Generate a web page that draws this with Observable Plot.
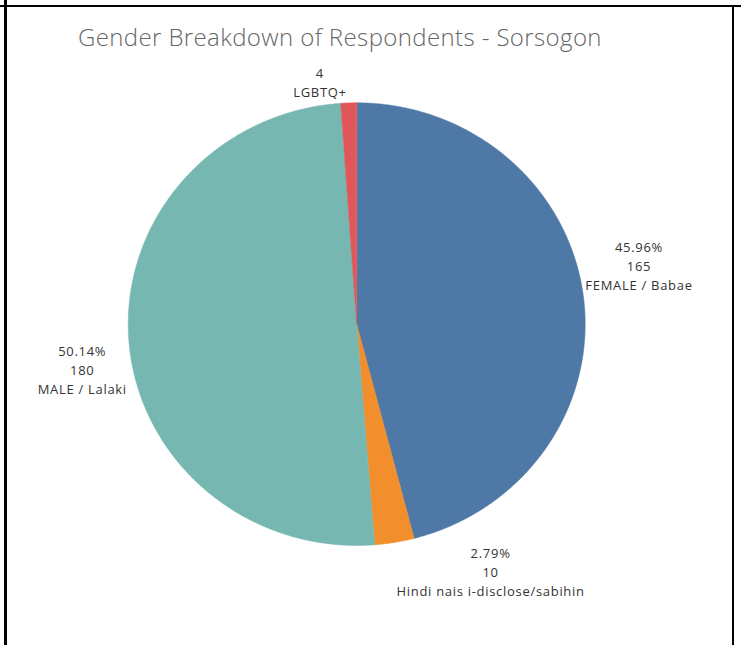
<!DOCTYPE html>
<html><head><meta charset="utf-8">
<script src="https://cdn.jsdelivr.net/npm/d3@7"></script>
<script src="https://cdn.jsdelivr.net/npm/@observablehq/plot@0.6"></script>
<style>
html,body{margin:0;padding:0;background:#fff;}
#wrap{position:relative;width:741px;height:645px;overflow:hidden;background:#fff;}
#chart{position:absolute;left:0;top:0;}
#title{position:absolute;left:78px;top:20.3px;font-family:"Open Sans",sans-serif;font-weight:300;font-size:24px;letter-spacing:0.38px;line-height:normal;color:#666;white-space:nowrap;}
.rule{position:absolute;background:#000;}
</style></head><body>
<div id="wrap">
  <div id="chart"></div>
  <div id="title">Gender Breakdown of Respondents - Sorsogon</div>
  <div class="rule" style="left:0;top:4.5px;width:741px;height:2.5px"></div>
  <div class="rule" style="left:4px;top:0;width:2.6px;height:645px"></div>
  <div class="rule" style="left:731.7px;top:4.5px;width:2.6px;height:641px"></div>
</div>
<script>
// ---- data ----
const categories = ["FEMALE / Babae", "Hindi nais i-disclose/sabihin", "MALE / Lalaki", "LGBTQ+"];
const counts = [165, 10, 180, 4];
const showPercent = [true, true, true, false];
const colors = ["#4e79a7", "#f28e2b", "#76b7b2", "#e15759"];

// ---- layout ----
const W = 741, H = 645;
const cx = 356.2, cy = 323.65, rx = 228.5, ry = 221.35;
const fontFamily = "'Open Sans', sans-serif";
const fs = 13, lh = 1.48, ls = 0.7, capH = 0.714;
const gapX = 2, gapY = 6;

const rows = categories.map((c, i) => ({category: c, count: counts[i], showPct: showPercent[i]}));
const total = d3.sum(counts);
const arcs = d3.pie().sort(null).value(d => d.count)(rows);

// slice polygons in unit-circle data coordinates
const points = [];
for (const a of arcs) {
  points.push({category: a.data.category, x: 0, y: 0});
  const n = Math.max(2, Math.ceil((a.endAngle - a.startAngle) / (Math.PI / 720)));
  for (let k = 0; k <= n; k++) {
    const t = a.startAngle + (a.endAngle - a.startAngle) * k / n;
    points.push({category: a.data.category, x: Math.sin(t), y: Math.cos(t)});
  }
}

// labels placed with their box corner at the slice's mid-angle edge point
const ctx = document.createElement("canvas").getContext("2d");
ctx.font = `${fs}px ${fontFamily}`;
const pct = d3.format(".2%");
const labels = arcs.map(a => {
  const d = a.data;
  const lines = (d.showPct ? [pct(d.count / total)] : []).concat([String(d.count), d.category]);
  const w = d3.max(lines, s => ctx.measureText(s).width + s.length * ls);
  const vh = (lines.length - 1) * lh * fs + capH * fs;
  const mid = (a.startAngle + a.endAngle) / 2;
  const ex = cx + rx * Math.sin(mid), ey = cy - ry * Math.cos(mid);
  const px = ex + Math.sign(Math.sin(mid)) * (w / 2 + gapX);
  const vc = ey - Math.sign(Math.cos(mid)) * (vh / 2 + gapY);
  const py = vc - (0.32 * lh * fs - capH * fs / 2);
  return {text: lines.join("\n"), x: (px - cx) / rx, y: (cy - py) / ry};
});

const chart = Plot.plot({
  width: W, height: H, margin: 0,
  style: {background: "transparent", letterSpacing: ls + "px"},
  x: {domain: [-1, 1], range: [cx - rx, cx + rx], axis: null},
  y: {domain: [-1, 1], range: [cy + ry, cy - ry], axis: null},
  color: {domain: categories, range: colors},
  marks: [
    Plot.line(points, {x: "x", y: "y", z: "category", fill: "category", stroke: "category", strokeWidth: 0.5, curve: "linear-closed"}),
    Plot.text(labels, {x: "x", y: "y", text: "text", textAnchor: "middle", lineAnchor: "middle", lineHeight: lh, fontSize: fs, fontFamily, fill: "#333"})
  ]
});
document.getElementById("chart").appendChild(chart);
</script>
</body></html>
